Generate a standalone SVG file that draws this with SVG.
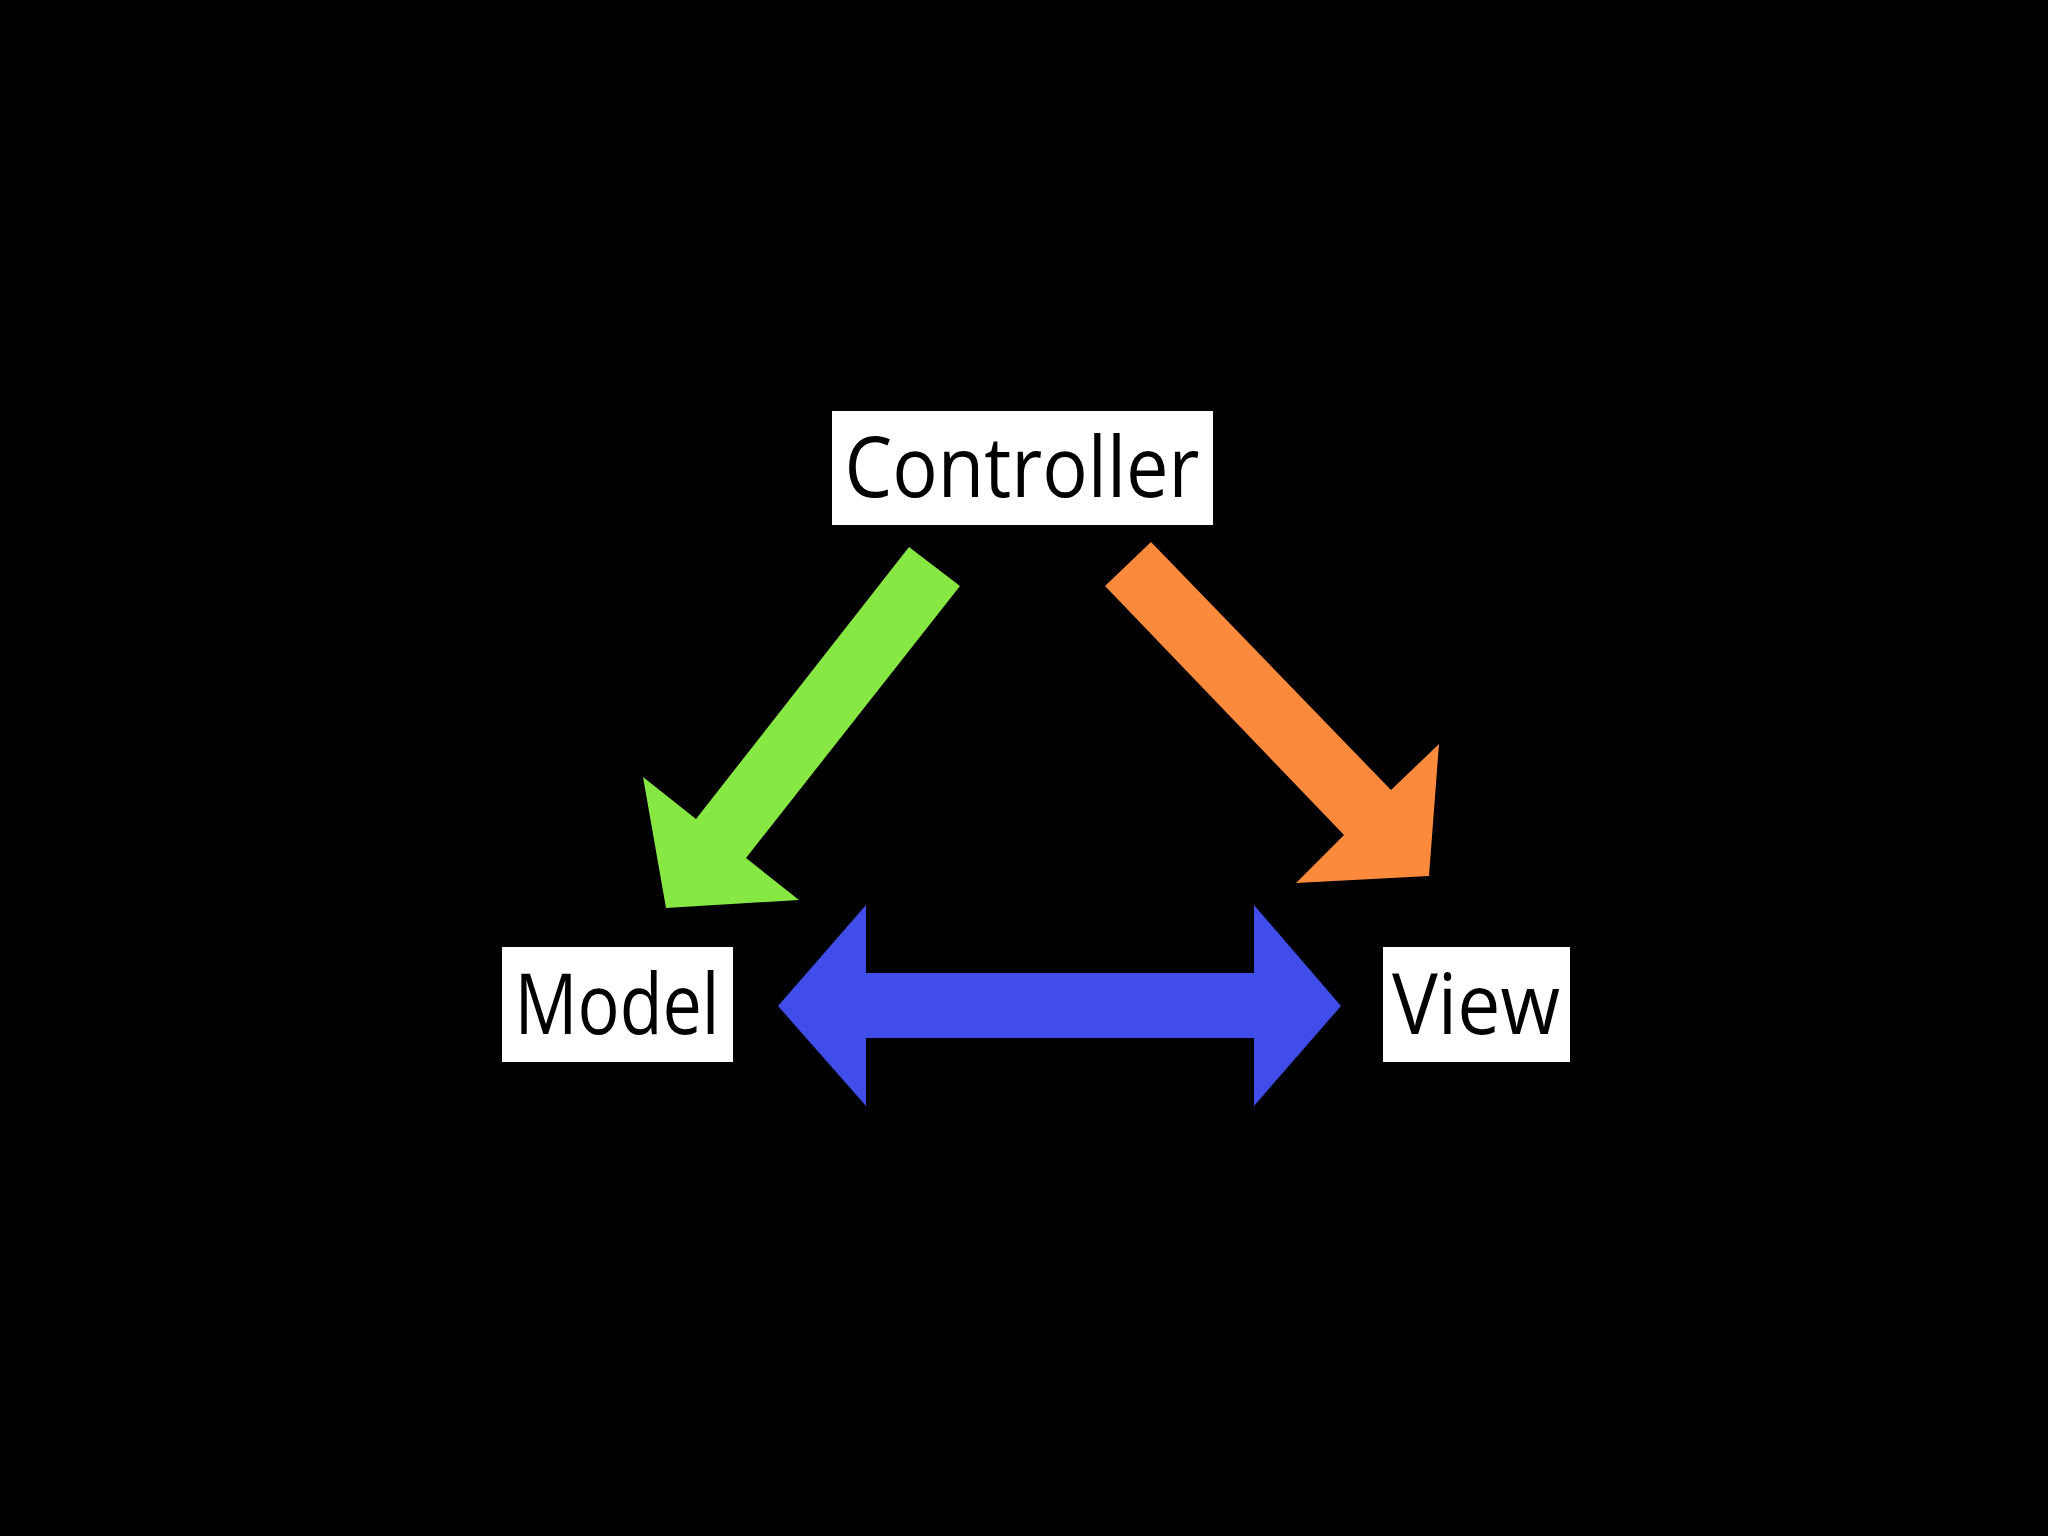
<svg xmlns="http://www.w3.org/2000/svg" width="2048" height="1536" viewBox="0 0 2048 1536">
<style>
.box{fill:#fff}
.t{font-family:"Open Sans","Liberation Sans",sans-serif;font-size:84px;fill:#000;text-anchor:middle}
</style>
<rect width="2048" height="1536" fill="#000"/>
<g id="connectors">
<polygon fill="#88E843" points="909,547 960,586 746,858 799,900 666,908 643,777 696,819"/>
<polygon fill="#FB8A3C" points="1151,542 1391,790 1439,744 1429,876 1296,883 1344,835 1105,586"/>
<polygon fill="#404DE8" points="778,1006 866,905 866,973 1254,973 1254,905 1341,1006 1254,1106 1254,1038 866,1038 866,1106"/>
</g>
<g id="controller"><rect class="box" x="832" y="411" width="381" height="114"/><text class="t" x="1022" y="497" textLength="355" lengthAdjust="spacingAndGlyphs">Controller</text></g>
<g id="model"><rect class="box" x="502" y="947" width="231" height="115"/><text class="t" x="617" y="1034" textLength="205" lengthAdjust="spacingAndGlyphs">Model</text></g>
<g id="view"><rect class="box" x="1383" y="947" width="187" height="115"/><text class="t" x="1476" y="1034" textLength="168" lengthAdjust="spacingAndGlyphs">View</text></g>
</svg>
